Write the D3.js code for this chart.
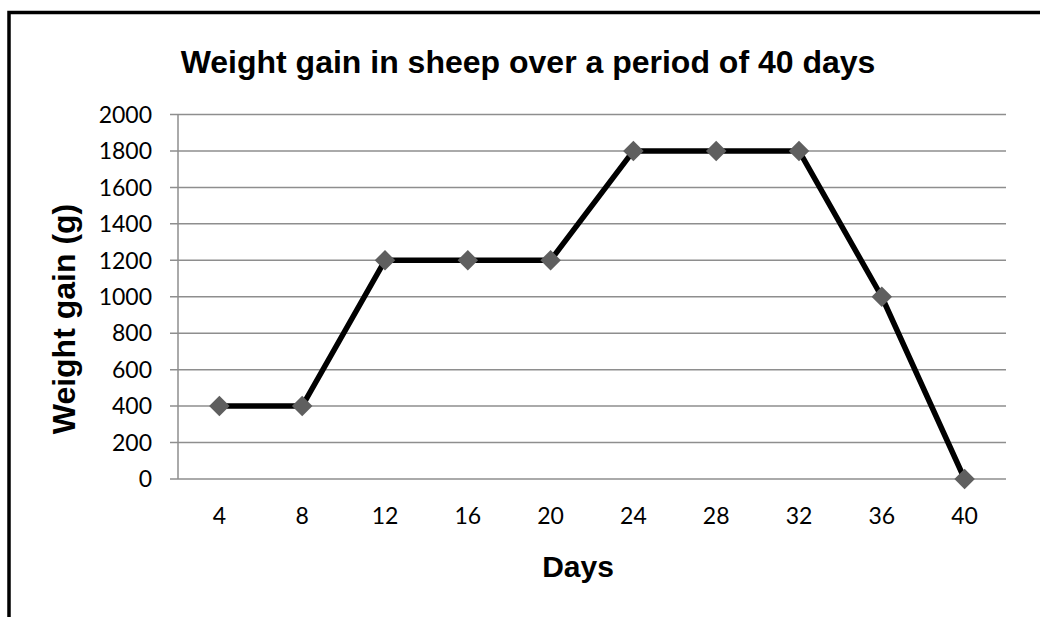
<!DOCTYPE html>
<html>
<head>
<meta charset="utf-8">
<script src="https://cdn.jsdelivr.net/npm/d3@7/dist/d3.min.js"></script>
<style>
  body { margin: 0; background: #fff; }
  svg { display: block; }
</style>
</head>
<body>
<svg width="1040" height="617"></svg>
<script>
// chart data
let days = ["4", "8", "12", "16", "20", "24", "28", "32", "36", "40"];
let weightGain = [400, 400, 1200, 1200, 1200, 1800, 1800, 1800, 1000, 0];
let yTicks = [0, 200, 400, 600, 800, 1000, 1200, 1400, 1600, 1800, 2000];

let titleText = "Weight gain in sheep over a period of 40 days";
let xTitle = "Days";
let yTitle = "Weight gain (g)";

let svg = d3.select("svg");

var plot = {l: 178, r: 1006, t: 114.5, b: 479};

// outer frame (only top and left edges are visible)
svg.append("path")
  .attr("d", "M9,617 L9,12.5 L1040,12.5")
  .attr("fill", "none")
  .attr("stroke", "#000")
  .attr("stroke-width", 3.5);

var x = d3.scaleBand()
  .domain(days)
  .range([plot.l, plot.r]);

var y = d3.scaleLinear()
  .domain([0, 2000])
  .range([plot.b, plot.t]);

// gridlines
svg.append("g")
  .selectAll("line")
  .data(yTicks)
  .join("line")
    .attr("x1", plot.l - 8)
    .attr("x2", plot.r)
    .attr("y1", d => y(d))
    .attr("y2", d => y(d))
    .attr("stroke", "#8e8e8e")
    .attr("stroke-width", 1.5);

// y axis line
svg.append("line")
  .attr("x1", plot.l).attr("x2", plot.l)
  .attr("y1", plot.t).attr("y2", plot.b)
  .attr("stroke", "#8e8e8e")
  .attr("stroke-width", 1.5);

// y tick labels
svg.append("g")
  .selectAll("text")
  .data(yTicks)
  .join("text")
    .attr("x", 152)
    .attr("y", d => y(d))
    .attr("dy", "0.36em")
    .attr("text-anchor", "end")
    .style("font-family", "Lato, 'Open Sans', sans-serif")
    .style("font-size", "23px")
    .style("fill", "#000")
    .text(d => d);

// x tick labels
svg.append("g")
  .selectAll("text")
  .data(days)
  .join("text")
    .attr("x", d => x(d) + x.bandwidth() / 2)
    .attr("y", 524)
    .attr("text-anchor", "middle")
    .style("font-family", "Lato, 'Open Sans', sans-serif")
    .style("font-size", "23px")
    .style("fill", "#000")
    .text(d => d);

// the line
var line = d3.line()
  .x((d, i) => x(days[i]) + x.bandwidth() / 2)
  .y(d => y(d));

svg.append("path")
  .datum(weightGain)
  .attr("d", line)
  .attr("fill", "none")
  .attr("stroke", "#000")
  .attr("stroke-width", 5.5)
  .attr("stroke-linejoin", "round");

// diamond markers
var diamond = d3.symbol().type(d3.symbolSquare).size(210);
svg.append("g")
  .selectAll("path")
  .data(weightGain)
  .join("path")
    .attr("d", diamond)
    .attr("transform", (d, i) => "translate(" + (x(days[i]) + x.bandwidth() / 2) + "," + y(d) + ") rotate(45)")
    .attr("fill", "#5f5f5f");

// titles
svg.append("text")
  .attr("x", 528)
  .attr("y", 73)
  .attr("text-anchor", "middle")
  .style("font-family", "Arial, 'Liberation Sans', sans-serif")
  .style("font-weight", "bold")
  .style("font-size", "32px")
  .text(titleText);

svg.append("text")
  .attr("x", 578)
  .attr("y", 577)
  .attr("text-anchor", "middle")
  .style("font-family", "Arial, 'Liberation Sans', sans-serif")
  .style("font-weight", "bold")
  .style("font-size", "30px")
  .text(xTitle);

svg.append("text")
  .attr("transform", "translate(75,319) rotate(-90)")
  .attr("text-anchor", "middle")
  .style("font-family", "Arial, 'Liberation Sans', sans-serif")
  .style("font-weight", "bold")
  .style("font-size", "32px")
  .text(yTitle);
</script>
</body>
</html>
